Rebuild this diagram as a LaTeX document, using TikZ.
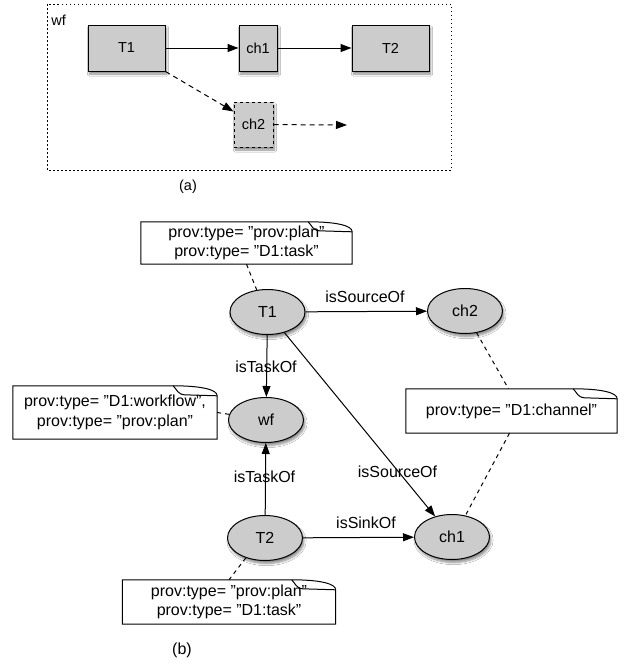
\documentclass[tikz,border=0pt]{standalone}
\usepackage{fontspec}
\setmainfont{Liberation Sans}
\usetikzlibrary{arrows.meta,shapes.geometric,shadows.blur,calc}
\definecolor{nodegray}{HTML}{CCCCCC}
\tikzset{
  txt/.style={font=\fontsize{16}{19.3}\selectfont, inner sep=0pt},
  txta/.style={font=\fontsize{14.5}{17}\selectfont, inner sep=0pt},
  shad/.style={blur shadow={shadow xshift=1.5pt, shadow yshift=-3pt, shadow blur steps=6, shadow opacity=45}},
  boxa/.style={txta, draw, line width=1pt, fill=nodegray, rectangle, minimum height=46pt, shad},
  ell/.style={txt, draw, line width=1pt, fill=nodegray, ellipse, minimum width=75pt, minimum height=45pt, shad},
  notebox/.style={txt, fill=white, rectangle, align=center},
  notel/.style={draw, line width=1pt},
  arr/.style={line width=1pt, -{Triangle[length=11pt,width=8pt]}},
  dash4/.style={line width=1pt, dash pattern=on 4pt off 4pt},
  dasha/.style={dash pattern=on 5pt off 4pt},
  frame/.style={line width=1pt, dash pattern=on 1.5pt off 2.5pt},
  elabel/.style={txt}
}
\newcommand{\notefold}[1]{%
  \draw[notel] (#1.south west) -- (#1.north west) -- ([xshift=-44pt]#1.north east)
    .. controls ([xshift=-15pt]#1.north east) and ([yshift=-4pt]#1.north east) .. ([yshift=-10pt]#1.north east)
    -- (#1.south east) -- cycle;
  \draw[notel] ([xshift=-44pt]#1.north east)
    .. controls ([xshift=-40pt,yshift=-4pt]#1.north east) and ([xshift=-40pt,yshift=-8pt]#1.north east) .. ([xshift=-33pt,yshift=-9pt]#1.north east)
    -- ([yshift=-10pt]#1.north east);
}
\begin{document}
\begin{tikzpicture}[x=1pt,y=-1pt]
\useasboundingbox (0,0) rectangle (624,664);
\fill[white] (0,0) rectangle (624,664);
% ---------- panel (a)
\draw[frame] (47,4) rectangle (451,170);
\node[txta] (wfa) at (58.7,20) {wf};
\node[boxa, minimum width=77pt] (aT1) at (126.5,48) {T1};
\node[boxa, minimum width=38pt] (ach1) at (258,48) {ch1};
\node[boxa, minimum width=77pt] (aT2) at (390.5,48) {T2};
\node[boxa, dashed, minimum width=39pt, minimum height=45pt] (ach2) at (253.5,124.5) {ch2};
\coordinate (aend) at (347,125);
\draw[arr] (aT1) -- (ach1);
\draw[arr] (ach1) -- (aT2);
\draw[arr, dasha] (aT1.south east) -- ([yshift=-10pt]ach2.north west);
\draw[arr, dasha] (ach2) -- (aend);
\node[txta] (capa) at (188,187) {(a)};
% ---------- panel (b)
\node[notebox, minimum width=211pt, minimum height=42pt] (n1) at (246.5,243)
  {prov:type= "prov:plan"\\prov:type= "D1:task"};
\notefold{n1}
\node[notebox, minimum width=204pt, minimum height=53pt] (nwf) at (115,412.5)
  {prov:type= "D1:workflow",\\prov:type= "prov:plan"};
\notefold{nwf}
\node[notebox, minimum width=211pt, minimum height=44pt] (nch2) at (511.5,411)
  {prov:type= "D1:channel"};
\notefold{nch2}
\node[notebox, minimum width=213pt, minimum height=44pt] (nT2) at (229,602)
  {prov:type= "prov:plan"\\prov:type= "D1:task"};
\notefold{nT2}

\node[ell] (T1) at (267.5,312) {T1};
\node[ell] (ch2) at (465,311) {ch2};
\node[ell] (wf) at (266,420) {wf};
\node[ell] (T2) at (265,538) {T2};
\node[ell] (ch1) at (452,537) {ch1};

\draw[arr] (T1) -- (ch2);
\draw[arr] (T1) -- (wf);
\draw[arr] (T1) -- (ch1);
\draw[arr] (T2) -- (wf);
\draw[arr] (T2) -- (ch1);

\node[elabel] (l1) at (365,297) {isSourceOf};
\node[elabel] (l2) at (266,367) {isTaskOf};
\node[elabel] (l3) at (397.5,472) {isSourceOf};
\node[elabel] (l4) at (264.5,477) {isTaskOf};
\node[elabel] (l5) at (366,523) {isSinkOf};

\draw[dash4] (n1.south) -- (T1.116);
\draw[dash4] (nwf.east) -- (wf);
\draw[dash4] (ch2.-62) -- ([xshift=-3pt]nch2.north);
\draw[dash4] ([xshift=-2pt]nch2.south) -- (ch1.58);
\draw[dash4] (T2.-134) -- (nT2.north);

\node[txt] (capb) at (182,650) {(b)};
\end{tikzpicture}
\end{document}
